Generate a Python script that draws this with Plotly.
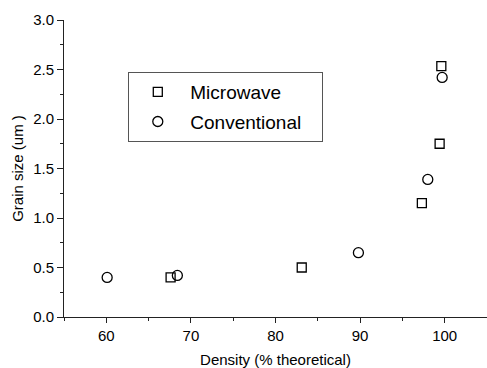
import plotly.graph_objects as go

# Data
mw_density = [67.6, 83.1, 97.3, 99.4, 99.6]
mw_grain = [0.40, 0.50, 1.15, 1.75, 2.535]
cv_density = [60.1, 68.4, 89.8, 98.0, 99.7]
cv_grain = [0.40, 0.42, 0.65, 1.39, 2.42]

series_names = ["Microwave", "Conventional"]
x_title = "Density (% theoretical)"
y_title = "Grain size (um )"

FONT = "Liberation Sans, Arial, sans-serif"
AX = "#222222"
PAD = "\u00a0\u00a0\u00a0"

fig = go.Figure()
fig.add_trace(go.Scatter(
    x=mw_density, y=mw_grain, mode="markers", name=series_names[0] + PAD,
    legendgroup="a",
    marker=dict(symbol="square-open", size=9, color="black", line=dict(width=1.3, color="black")),
))
fig.add_trace(go.Scatter(
    x=cv_density, y=cv_grain, mode="markers", name=series_names[1] + PAD,
    legendgroup="b",
    marker=dict(symbol="circle-open", size=10, color="black", line=dict(width=1.3, color="black")),
))

fig.update_layout(
    width=487, height=368,
    margin=dict(l=64, r=0, t=20, b=51),
    paper_bgcolor="white", plot_bgcolor="white",
    font=dict(family=FONT, color="black", size=15),
    showlegend=True,
    legend=dict(
        x=0.152, y=0.825, xanchor="left", yanchor="top",
        bgcolor="white", bordercolor="#555555", borderwidth=1,
        font=dict(size=19, family=FONT),
        traceorder="grouped", tracegroupgap=2,
        indentation=-4, itemwidth=55,
    ),
    xaxis=dict(
        range=[55, 105], dtick=10, tick0=60, showgrid=False, zeroline=False,
        showline=True, linecolor=AX, linewidth=1,
        ticks="outside", ticklen=5, tickcolor=AX, tickwidth=1,
        minor=dict(dtick=5, tick0=55, ticks="outside", ticklen=3, tickcolor=AX, showgrid=False),
        tickfont=dict(size=15),
        title=dict(text=x_title, font=dict(size=15), standoff=12),
    ),
    yaxis=dict(
        range=[0, 3], dtick=0.5, tickformat=".1f", showgrid=False, zeroline=False,
        showline=True, linecolor=AX, linewidth=1,
        ticks="outside", ticklen=6, tickcolor=AX, tickwidth=1,
        minor=dict(dtick=0.25, ticks="outside", ticklen=3, tickcolor=AX, showgrid=False),
        tickfont=dict(size=15),
        title=dict(text=y_title, font=dict(size=15), standoff=5),
    ),
    xaxis2=dict(
        overlaying="x", side="top", matches="x", range=[55, 105], dtick=10, tick0=60,
        showgrid=False, zeroline=False, showline=True, linecolor=AX, linewidth=1,
        ticks="inside", ticklen=5, tickcolor=AX, showticklabels=False,
        minor=dict(dtick=5, tick0=55, ticks="inside", ticklen=3, tickcolor=AX, showgrid=False),
    ),
    yaxis2=dict(
        overlaying="y", side="right", matches="y", range=[0, 3], dtick=0.5,
        showgrid=False, zeroline=False, showline=True, linecolor=AX, linewidth=1,
        ticks="inside", ticklen=6, tickcolor=AX, showticklabels=False,
        minor=dict(dtick=0.25, ticks="inside", ticklen=3, tickcolor=AX, showgrid=False),
    ),
)

fig.write_html("out.html")
